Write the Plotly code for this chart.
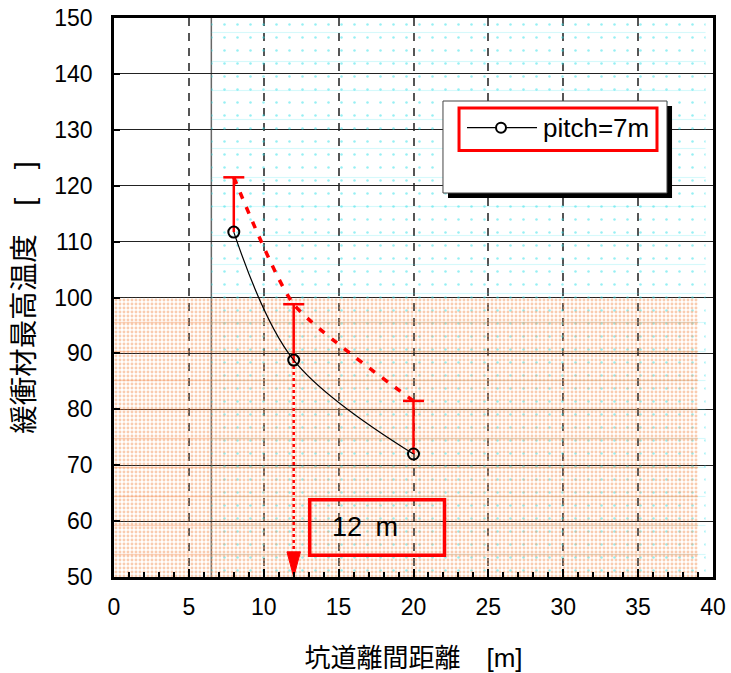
import plotly.graph_objects as go

# Buffer maximum temperature vs. tunnel spacing (pitch = 7 m)
distance = [8, 12, 20]                 # tunnel spacing [m]
max_temp = [111.7, 88.8, 72.0]         # buffer max temperature
max_temp_upper = [121.5, 98.8, 81.5]   # upper estimate

temp_limit = 100          # temperature criterion
selected_distance = 12    # chosen spacing
pitch_label = "pitch=7m"
result_label = "12\u2002m"

x_ticks = [0, 5, 10, 15, 20, 25, 30, 35, 40]
y_ticks = [50, 60, 70, 80, 90, 100, 110, 120, 130, 140, 150]
x_range = [0, 40]
y_range = [50, 150]

FONT = "Arial, 'Liberation Sans', 'Noto Sans CJK JP', sans-serif"
RED = "#ff0000"
CLEAR = "rgba(0,0,0,0)"

fig = go.Figure()


def texture(xs, ys, **pattern):
    fig.add_trace(go.Scatter(x=xs, y=ys, fill="toself", mode="none",
                             fillcolor=CLEAR,
                             fillpattern=dict(bgcolor=CLEAR, **pattern),
                             hoverinfo="skip", showlegend=False))


# Textured background regions
cyan_x = [6.5, 39.5, 39.5, 6.5, 6.5]
cyan_y = [y_range[0], y_range[0], y_range[1], y_range[1], y_range[0]]
texture(cyan_x, cyan_y, shape=".", fgcolor="#30e0e8", size=13, solidity=0.03)
texture(cyan_x, cyan_y, shape="-", fgcolor="#30e0e8", size=29, solidity=0.04,
        fgopacity=0.2)

orange_x = [0, 39, 39, 0, 0]
orange_y = [y_range[0], y_range[0], temp_limit, temp_limit, y_range[0]]
texture(orange_x, orange_y, shape=".", fgcolor="#f49a62", size=4, solidity=0.42)
texture(orange_x, orange_y, shape="-", fgcolor="#f08040", size=29, solidity=0.05,
        fgopacity=0.35)

# Vertical red bars from each point up to the upper estimate
seg_x, seg_y = [], []
for d, lo, hi in zip(distance, max_temp, max_temp_upper):
    seg_x += [d, d, None]
    seg_y += [lo, hi, None]
fig.add_trace(go.Scatter(x=seg_x, y=seg_y, mode="lines",
                         line=dict(color=RED, width=2.5),
                         hoverinfo="skip", showlegend=False))

# Upper-estimate curve (dashed) with caps
fig.add_trace(go.Scatter(x=distance, y=max_temp_upper, mode="lines",
                         line=dict(color=RED, width=3.5, dash="7px,9px",
                                   shape="spline", smoothing=0.55),
                         showlegend=False))
fig.add_trace(go.Scatter(x=distance, y=max_temp_upper, mode="markers",
                         marker=dict(symbol="line-ew", size=15,
                                     line=dict(color=RED, width=2.5)),
                         showlegend=False))

# Dotted drop line to the chosen spacing with arrowhead
idx = distance.index(selected_distance)
arrow_top = y_range[0] + 4.5
fig.add_trace(go.Scatter(x=[selected_distance, selected_distance],
                         y=[max_temp[idx], arrow_top],
                         mode="lines", line=dict(color=RED, width=2.5, dash="dot"),
                         hoverinfo="skip", showlegend=False))
fig.add_trace(go.Scatter(x=[selected_distance - 0.45, selected_distance + 0.45,
                            selected_distance, selected_distance - 0.45],
                         y=[arrow_top, arrow_top, y_range[0], arrow_top],
                         mode="lines", fill="toself", fillcolor=RED,
                         line=dict(color=RED, width=1),
                         hoverinfo="skip", showlegend=False))

# Main curve
fig.add_trace(go.Scatter(x=distance, y=max_temp, mode="lines+markers",
                         name=pitch_label,
                         line=dict(color="black", width=1.2, shape="spline",
                                   smoothing=1),
                         marker=dict(symbol="circle-open", size=11,
                                     line=dict(color="black", width=2)),
                         showlegend=False))

# Vertical reference line
fig.add_shape(type="line", x0=6.5, x1=6.5, y0=y_range[0], y1=y_range[1],
              xref="x", yref="y", line=dict(color="#666666", width=1.5),
              layer="below")

# Legend box with drop shadow
fig.add_shape(type="rect", xref="paper", yref="paper",
              x0=0.5576, x1=0.9316, y0=0.678, y1=0.8426,
              fillcolor="black", line=dict(width=0), layer="above")
fig.add_shape(type="rect", xref="paper", yref="paper",
              x0=0.5492, x1=0.9232, y0=0.6869, y1=0.8515,
              fillcolor="white", line=dict(color="#444444", width=1), layer="above")
fig.add_shape(type="rect", xref="paper", yref="paper",
              x0=0.576, x1=0.9065, y0=0.763, y1=0.839,
              fillcolor=CLEAR, line=dict(color=RED, width=3), layer="above")
fig.add_shape(type="line", xref="paper", yref="paper",
              x0=0.5893, x1=0.7062, y0=0.8038, y1=0.8038,
              line=dict(color="black", width=1.2), layer="above")
fig.add_shape(type="circle", xref="paper", yref="paper",
              xsizemode="pixel", ysizemode="pixel",
              xanchor=0.6461, yanchor=0.8038, x0=-5, x1=5, y0=-5, y1=5,
              fillcolor="white", line=dict(color="black", width=2), layer="above")
fig.add_annotation(x=0.713, y=0.8038, xref="paper", yref="paper",
                   text=pitch_label, showarrow=False, xanchor="left",
                   yanchor="middle", font=dict(family=FONT, size=26, color="black"))

# Result box
fig.add_shape(type="rect", xref="x", yref="y", x0=13.07, x1=22.07,
              y0=53.9, y1=63.8, fillcolor=CLEAR,
              line=dict(color=RED, width=3.5), layer="above")
fig.add_annotation(x=14.45, y=58.9, xref="x", yref="y", text=result_label,
                   showarrow=False, xanchor="left", yanchor="middle",
                   font=dict(family=FONT, size=27, color="black"))

fig.update_layout(
    width=731, height=673,
    margin=dict(l=114, r=18, t=18, b=96, autoexpand=False),
    paper_bgcolor="white", plot_bgcolor="white",
    font=dict(family=FONT, color="black"),
    showlegend=False,
    xaxis=dict(range=x_range, tickvals=x_ticks, ticktext=[str(v) for v in x_ticks],
               automargin=False,
               showline=True, linecolor="black", linewidth=2.5, mirror=True,
               ticks="inside", ticklen=8, tickwidth=1.5, tickcolor="black",
               showgrid=True, gridcolor="#555555", gridwidth=1.5,
               griddash="8px,7px", zeroline=False,
               minor=dict(dtick=1, ticks="inside", ticklen=5, tickwidth=1.5,
                          tickcolor="black", showgrid=False),
               tickfont=dict(size=23, family=FONT), ticklabelstandoff=8,
               title=dict(text="坑道離間距離　[m]", font=dict(size=26, family=FONT),
                          standoff=30)),
    yaxis=dict(range=y_range, tickvals=y_ticks, ticktext=[str(v) for v in y_ticks],
               automargin=False,
               showline=True, linecolor="black", linewidth=2.5, mirror=True,
               ticks="inside", ticklen=6, tickwidth=2, tickcolor="black",
               showgrid=True, gridcolor="#222222", gridwidth=1.2, zeroline=False,
               tickfont=dict(size=23, family=FONT), ticklabelstandoff=14,
               title=dict(text="緩衝材最高温度　[　]", font=dict(size=28.5, family=FONT),
                          standoff=12)),
)

fig.write_html("out.html")
